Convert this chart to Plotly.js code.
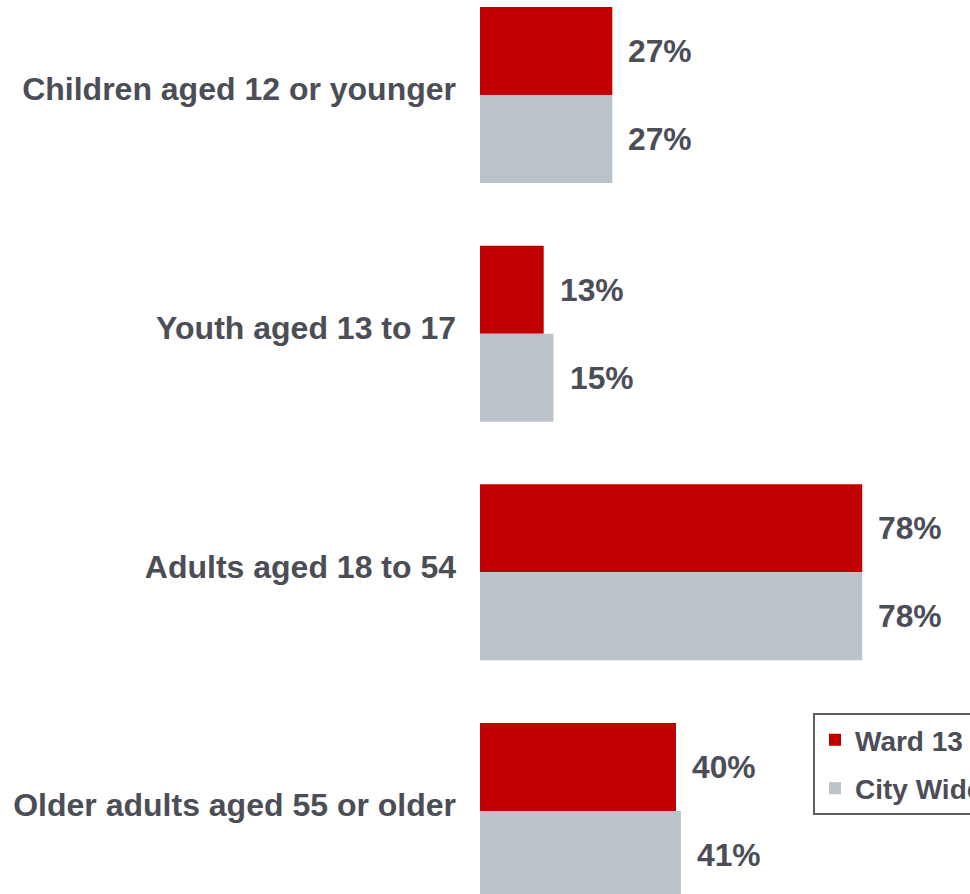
<!DOCTYPE html>
<html>
<head>
<meta charset="utf-8">
<script src="https://cdn.plot.ly/plotly-3.0.1.min.js"></script>
<style>
  html, body { margin: 0; padding: 0; background: #ffffff; }
  #chart { width: 970px; height: 894px; }
</style>
</head>
<body>
<div id="chart"></div>
<script>
// ---- data ----
const categories = [
  "Children aged 12 or younger",
  "Youth aged 13 to 17",
  "Adults aged 18 to 54",
  "Older adults aged 55 or older"
];
const seriesNames = ["Ward 13", "City Wide"];
const ward13 = [27, 13, 78, 40];
const cityWide = [27, 15, 78, 41];

// ---- styling ----
const FONT = "Liberation Sans, Arial, Helvetica, sans-serif";
const TEXT = "#4b4e56";
const RED = "#c00000";
const GRAY = "#bcc2c9";

const traces = [
  {
    type: "bar", orientation: "h", name: seriesNames[0],
    y: categories, x: ward13,
    marker: { color: RED, line: { width: 0 } },
    legendgroup: "a", hoverinfo: "skip"
  },
  {
    type: "bar", orientation: "h", name: seriesNames[1],
    y: categories, x: cityWide,
    marker: { color: GRAY, line: { width: 0 } },
    legendgroup: "b", hoverinfo: "skip"
  }
];

const annotations = [];
const fmt = v => v + "%";
categories.forEach((c, i) => {
  annotations.push({
    x: ward13[i], y: c, xref: "x", yref: "y",
    text: fmt(ward13[i]), showarrow: false,
    xanchor: "left", yanchor: "middle", xshift: 14, yshift: 44,
    font: { family: FONT, size: 31.8, color: TEXT, weight: "bold" }
  });
  annotations.push({
    x: cityWide[i], y: c, xref: "x", yref: "y",
    text: fmt(cityWide[i]), showarrow: false,
    xanchor: "left", yanchor: "middle", xshift: 14, yshift: -44,
    font: { family: FONT, size: 31.8, color: TEXT, weight: "bold" }
  });
});

const layout = {
  width: 970, height: 894,
  margin: { l: 480, r: 0, t: 0, b: 0, pad: 0, autoexpand: false },
  paper_bgcolor: "#ffffff", plot_bgcolor: "#ffffff",
  font: { family: FONT, color: TEXT, weight: "bold" },
  barmode: "group", bargap: 0.2626, bargroupgap: 0,
  showlegend: true,
  legend: {
    x: 0.6796, y: 0.2023, xanchor: "left", yanchor: "top",
    bgcolor: "#ffffff", bordercolor: "#5a5d63", borderwidth: 2,
    traceorder: "grouped", tracegroupgap: 9,
    font: { family: FONT, size: 28, color: TEXT, weight: "bold" }
  },
  xaxis: {
    range: [0, 100], showgrid: false, zeroline: false, showline: false,
    showticklabels: false, ticks: "", fixedrange: true
  },
  yaxis: {
    type: "category", categoryorder: "array", categoryarray: categories,
    range: [3.3477, -0.398], showgrid: false, zeroline: false, showline: false,
    ticks: "", ticklabelstandoff: 23, ticklabelshift: 6,
    tickfont: { family: FONT, size: 32, color: TEXT, weight: "bold" },
    fixedrange: true
  },
  annotations: annotations
};

Plotly.newPlot("chart", traces, layout, { displayModeBar: false, staticPlot: true });
</script>
</body>
</html>
